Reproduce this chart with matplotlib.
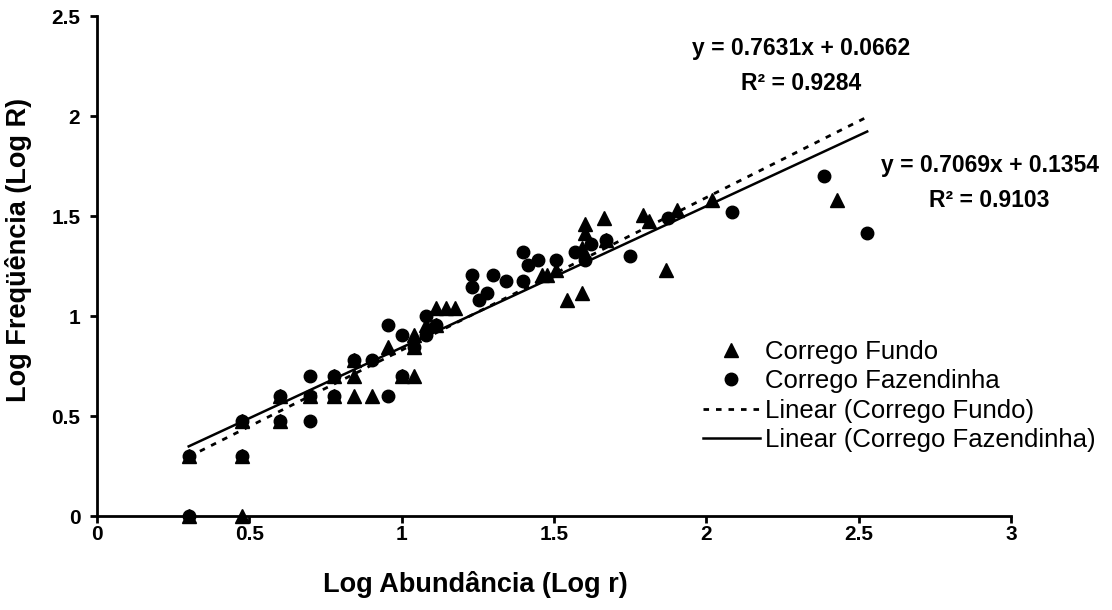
import matplotlib
matplotlib.use("Agg")
import matplotlib.pyplot as plt
import numpy as np

plt.rcParams['font.family'] = ['Liberation Sans', 'DejaVu Sans']

# Corrego Fundo (triangles)
fundo_x = [0.301, 0.301, 0.477, 0.477, 0.477, 0.602, 0.602, 0.699, 0.778, 0.778,
           0.845, 0.845, 0.845, 0.903, 0.954, 1.000, 1.041, 1.041, 1.041, 1.079,
           1.114, 1.146, 1.176, 1.114, 1.462, 1.477, 1.505, 1.544, 1.591, 1.591,
           1.602, 1.602, 1.663, 1.672, 1.792, 1.813, 1.869, 1.903, 2.017, 2.430]
fundo_y = [0.301, 0.000, 0.000, 0.301, 0.477, 0.602, 0.477, 0.602, 0.602, 0.699,
           0.778, 0.699, 0.602, 0.602, 0.845, 0.699, 0.699, 0.903, 0.845, 0.954,
           1.041, 1.041, 1.041, 0.954, 1.204, 1.204, 1.230, 1.079, 1.114, 1.342,
           1.415, 1.462, 1.491, 1.380, 1.505, 1.477, 1.230, 1.531, 1.580, 1.580]

# Corrego Fazendinha (circles)
faz_x = [0.301, 0.301, 0.477, 0.477, 0.602, 0.602, 0.699, 0.699, 0.699, 0.778,
         0.778, 0.845, 0.903, 0.954, 0.954, 1.000, 1.000, 1.041, 1.079, 1.079,
         1.114, 1.230, 1.230, 1.255, 1.279, 1.301, 1.342, 1.398, 1.415, 1.398,
         1.447, 1.505, 1.568, 1.602, 1.623, 1.672, 1.748, 1.875, 2.083, 2.387,
         2.528]
faz_y = [0.000, 0.301, 0.301, 0.477, 0.602, 0.477, 0.699, 0.602, 0.477, 0.699,
         0.602, 0.778, 0.778, 0.954, 0.602, 0.903, 0.699, 0.845, 1.000, 0.903,
         0.954, 1.204, 1.146, 1.079, 1.114, 1.204, 1.176, 1.322, 1.255, 1.176,
         1.279, 1.279, 1.322, 1.279, 1.362, 1.380, 1.301, 1.491, 1.519, 1.699,
         1.415]

# Trendline coefficients (as reported on the chart)
fundo_fit = (0.7631, 0.0662, 0.9284)
faz_fit = (0.7069, 0.1354, 0.9103)
trend_range = (0.301, 2.528)

x_ticks = [0, 0.5, 1, 1.5, 2, 2.5, 3]
x_ticklabels = ['0', '0.5', '1', '1.5', '2', '2.5', '3']
y_ticks = [0, 0.5, 1, 1.5, 2, 2.5]
y_ticklabels = ['0', '0.5', '1', '1.5', '2', '2.5']

fig = plt.figure(figsize=(11.12, 6.10), dpi=100)
ax = fig.add_axes([97/1112, 94/610, 914/1112, 500/610])

ax.plot(fundo_x, fundo_y, linestyle='none', marker='^', color='black', ms=9.5,
        label='Corrego Fundo', clip_on=False, zorder=3)
ax.plot(faz_x, faz_y, linestyle='none', marker='o', color='black', ms=9,
        label='Corrego Fazendinha', clip_on=False, zorder=3)

xs = np.array(trend_range)
ax.plot(xs, fundo_fit[0]*xs + fundo_fit[1], color='black', lw=2,
        linestyle=(0, (2, 2.5)), label='Linear (Corrego Fundo)', zorder=2)
ax.plot(xs, faz_fit[0]*xs + faz_fit[1], color='black', lw=1.8,
        label='Linear (Corrego Fazendinha)', zorder=2)

ax.set_xlim(0, 3)
ax.set_ylim(0, 2.5)
ax.set_xticks(x_ticks)
ax.set_xticklabels(x_ticklabels)
ax.set_yticks(y_ticks)
ax.set_yticklabels(y_ticklabels)
for s in ['top', 'right']:
    ax.spines[s].set_visible(False)
for s in ['left', 'bottom']:
    ax.spines[s].set_linewidth(2)
ax.tick_params(axis='both', direction='out', length=5, width=2, labelsize=15)
ax.tick_params(axis='x', pad=1.5)
ax.tick_params(axis='y', pad=7)
for lab in ax.get_xticklabels() + ax.get_yticklabels():
    lab.set_fontweight('bold')

ax.set_xlabel('Log Abundância (Log r)', fontsize=19.5, fontweight='bold')
ax.set_ylabel('Log Freqüência (Log R)', fontsize=19.5, fontweight='bold')
ax.xaxis.set_label_coords(378/914, -55/500)
ax.yaxis.set_label_coords(-65/914, 266/500)

ax.text(2.31, 2.25, 'y = %.4fx + %.4f\nR² = %.4f' % fundo_fit, ha='center', va='center',
        fontsize=16.5, fontweight='bold', linespacing=1.7, multialignment='center')
ax.text(2.93, 1.665, 'y = %.4fx + %.4f\nR² = %.4f' % faz_fit, ha='center', va='center',
        fontsize=16.5, fontweight='bold', linespacing=1.7, multialignment='center')

leg = ax.legend(loc='upper left', bbox_to_anchor=(606/914, 176/500), frameon=False,
                fontsize=18.5, handlelength=2.2, handletextpad=0.2, labelspacing=0.21,
                borderaxespad=0, borderpad=0)

fig.savefig('out.png', dpi=100)
